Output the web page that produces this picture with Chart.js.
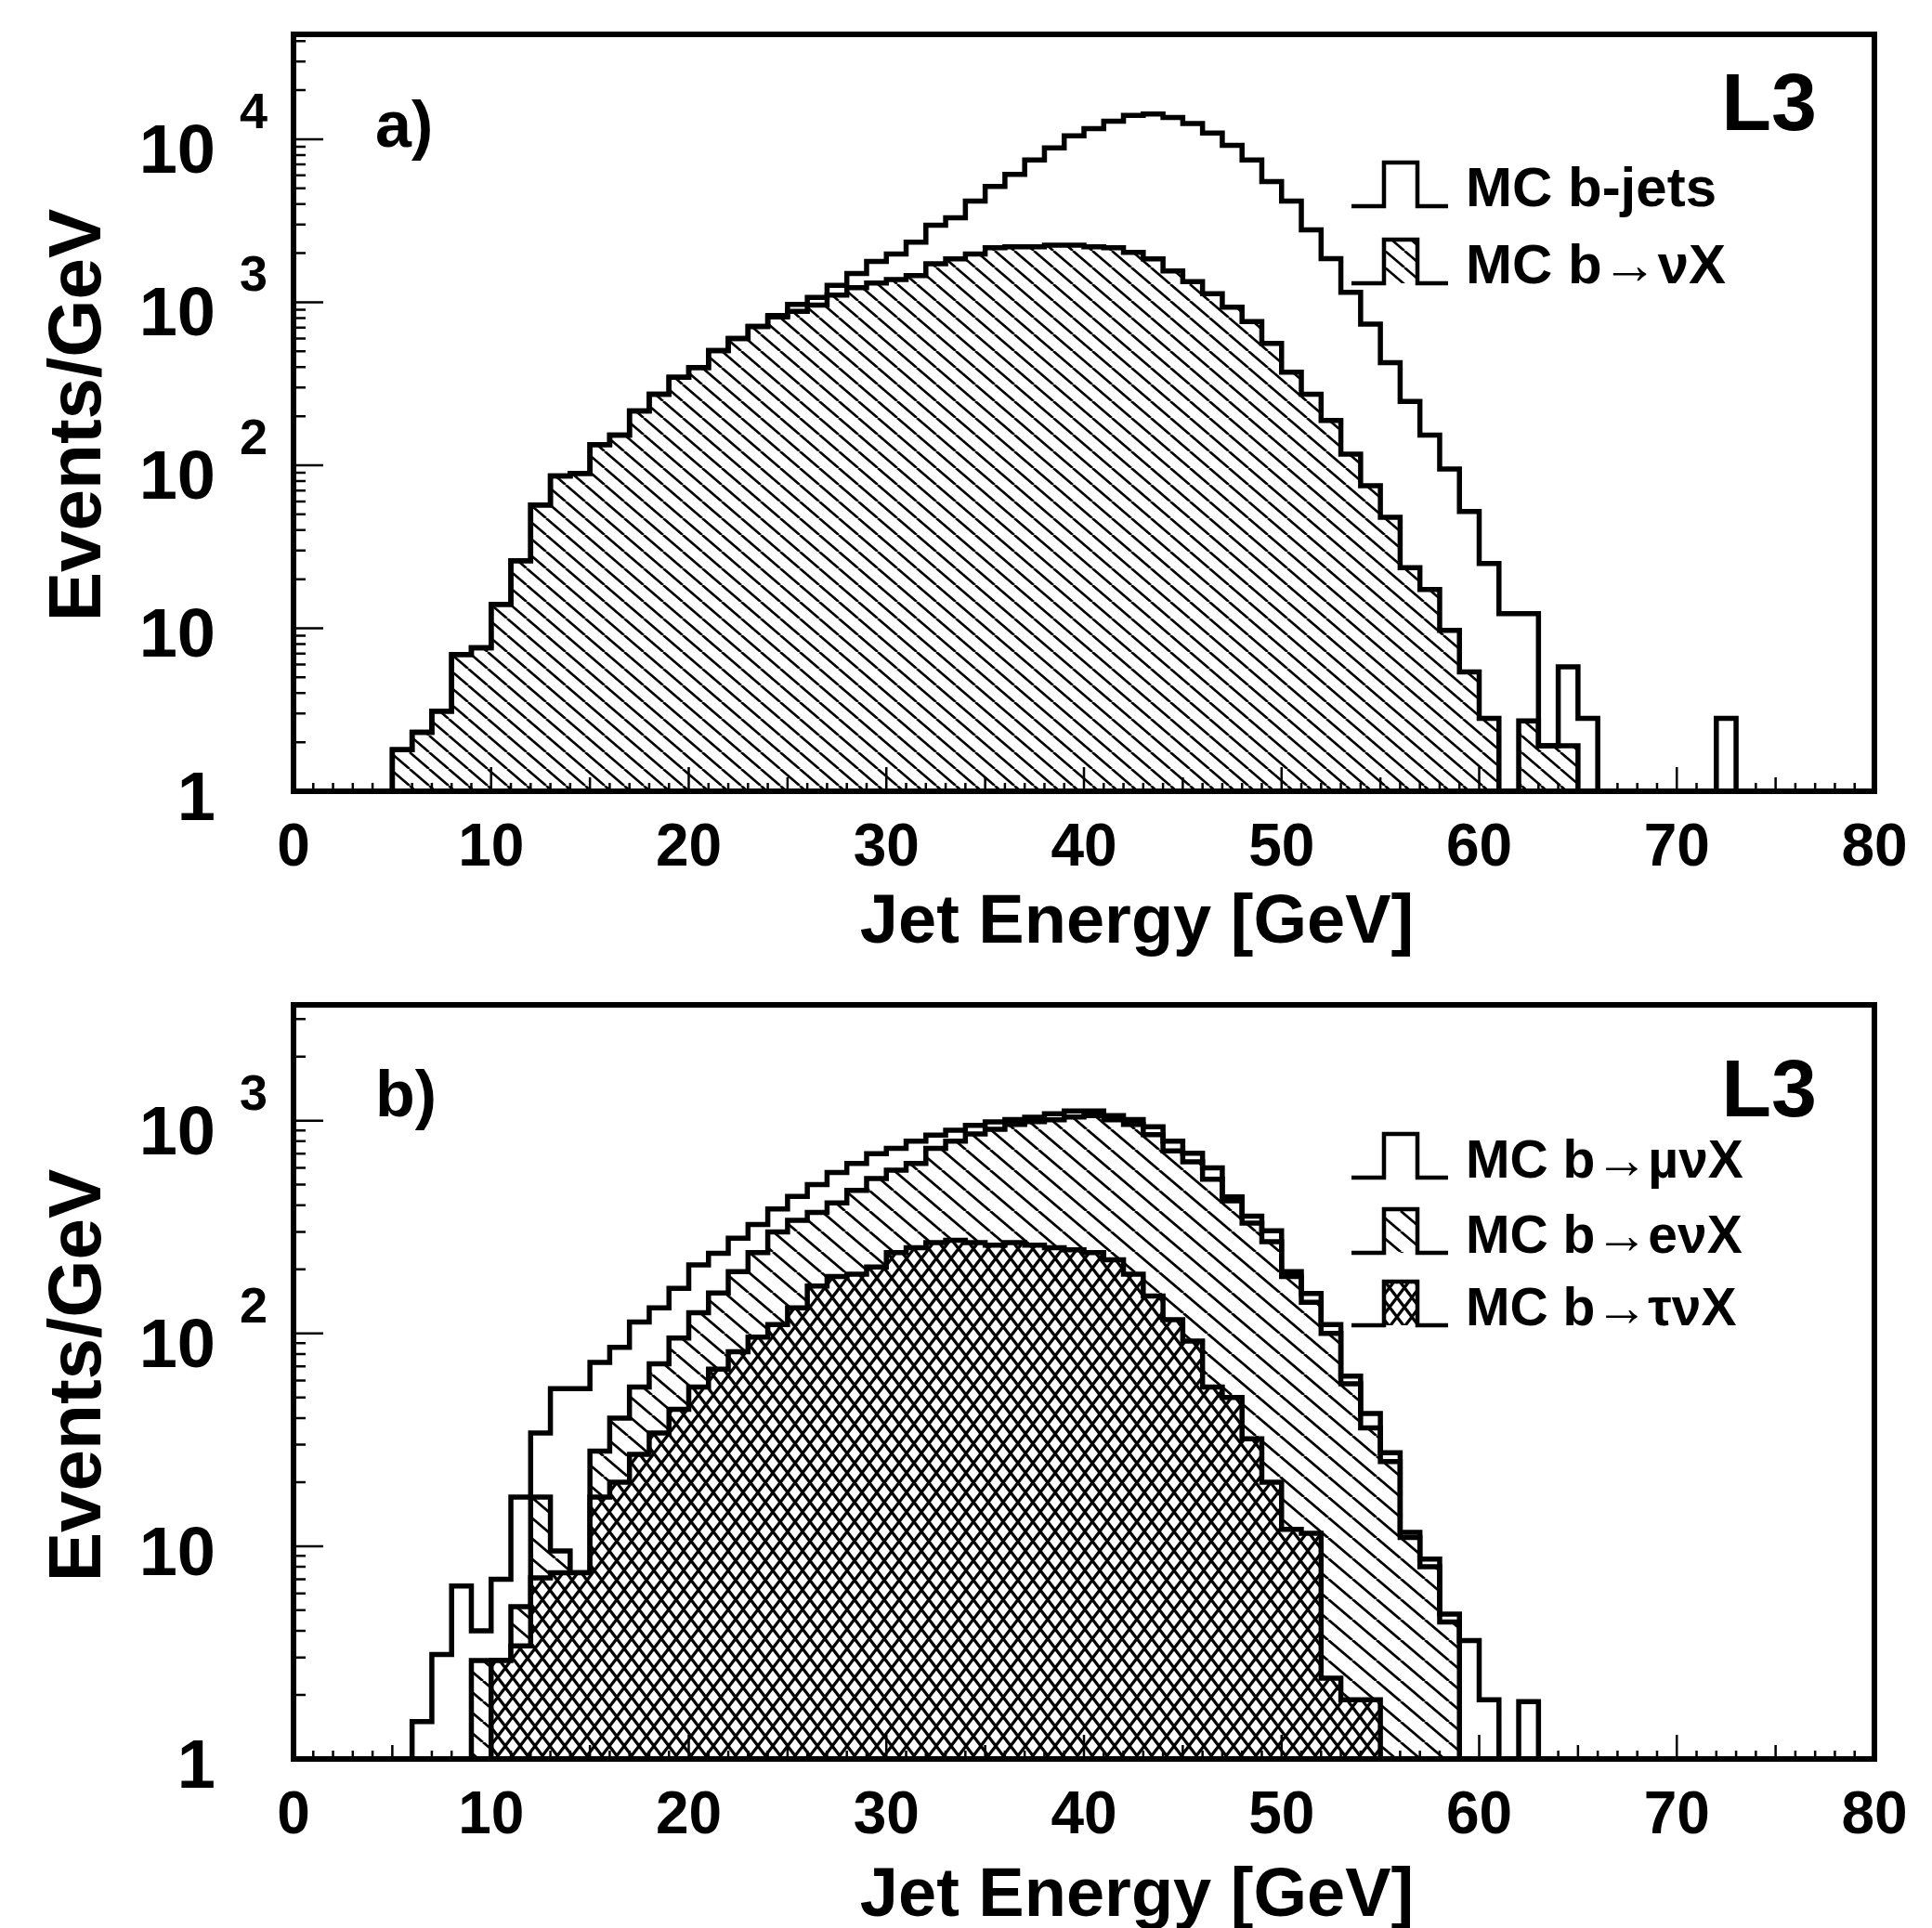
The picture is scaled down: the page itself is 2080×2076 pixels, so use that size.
<!DOCTYPE html>
<html>
<head>
<meta charset="utf-8">
<script src="https://cdn.jsdelivr.net/npm/chart.js@4.4.1/dist/chart.umd.min.js"></script>
<style>
  html, body { margin: 0; padding: 0; background: #fff; }
  body { width: 2080px; height: 2076px; position: relative; overflow: hidden; }
  canvas { position: absolute; left: 0; }
  #chart-a { top: 0; }
  #chart-b { top: 1040px; }
</style>
</head>
<body>
<canvas id="chart-a" width="2080" height="1040"></canvas>
<canvas id="chart-b" width="2080" height="1036"></canvas>
<script>
// 1 GeV bins, every series lists its counts starting from its first bin edge
const xTicks = [0, 10, 20, 30, 40, 50, 60, 70, 80];
const yTicksA = [1, 10, 100, 1000, 10000];
const yTicksB = [1, 10, 100, 1000];

// panel a)
const bJetsStart = 5;
const bJets = [
  1.8, 2.3, 3.1, 6.9, 7.6, 14, 26, 57, 86, 89,
  134, 153, 215, 273, 347, 398, 505, 600, 710, 830,
  970, 1070, 1270, 1500, 1780, 1980, 2340, 2970, 3300, 4180,
  5130, 6090, 7470, 8860, 10500, 11600, 12900, 14000, 14300, 13600,
  12500, 10900, 9160, 7470, 5500, 4180, 2780, 1850, 1150, 735,
  426, 246, 153, 95, 52, 25, 12.3, 12.3, 1.9, 5.8,
  2.8, 0, 0, 0, 0, 0, 0, 2.8
];
const bNuXStart = 5;
const bNuX = [
  1.8, 2.3, 3.1, 6.9, 7.6, 14, 26, 57, 86, 89,
  134, 153, 215, 273, 347, 398, 505, 600, 710, 812,
  880, 960, 1107, 1227, 1313, 1380, 1455, 1725, 1846, 1977,
  2160, 2190, 2190, 2240, 2240, 2190, 2160, 2020, 1846, 1556,
  1340, 1130, 933, 760, 560, 372, 273, 188, 117, 75,
  48, 23.5, 17.3, 9.7, 5.4, 2.8, 0, 2.7, 1.9, 1.9
];

// panel b)
const muNuXStart = 6;
const muNuX = [
  1.5, 3.1, 6.5, 4.0, 7.0, 17, 34, 55, 55, 73,
  86, 113, 132, 163, 210, 238, 280, 325, 385, 440,
  500, 570, 630, 700, 740, 800, 856, 902, 950, 986,
  1011, 1038, 1076, 1111, 1111, 1055, 1011, 935, 800, 702,
  600, 438, 356, 304, 195, 154, 110, 63, 42, 27.5,
  11.6, 8.7, 4.8, 3.6, 1.9, 0, 1.86
];
const eNuXStart = 9;
const eNuX = [
  2.9, 2.9, 5.2, 17, 9.5, 7.5, 28, 40, 56, 72,
  95, 125, 155, 195, 240, 300, 340, 370, 410, 470,
  535, 585, 630, 740, 800, 865, 910, 960, 990, 1010,
  1040, 1055, 1010, 960, 860, 720, 640, 530, 420, 330,
  270, 185, 140, 100, 58, 36, 25, 11, 8, 4.4
];
const tauNuXStart = 10;
const tauNuX = [
  2.9, 3.4, 7.1, 7.5, 7.5, 17, 20, 27, 34, 44,
  56, 68, 82, 96, 110, 132, 167, 185, 190, 205,
  240, 253, 267, 274, 267, 260, 267, 260, 253, 247,
  240, 222, 190, 150, 116, 92, 56, 50, 32, 20,
  12, 11.5, 2.4, 1.9, 1.9
];

const FONT = "'Liberation Sans', Arial, 'DejaVu Sans', sans-serif";

// outline points for a step histogram; empty bins sit on the axis floor
function histPoints(start, counts, floor) {
  const pts = [{x: start, y: floor}];
  counts.forEach((c, i) => pts.push({x: start + i, y: c > 0 ? c : floor}));
  pts.push({x: start + counts.length, y: floor});
  return pts;
}

function hatch(w, h, lw, cross, bg) {
  const c = document.createElement('canvas');
  c.width = w; c.height = h;
  const g = c.getContext('2d');
  if (bg) { g.fillStyle = bg; g.fillRect(0, 0, w, h); }
  g.strokeStyle = '#000';
  g.lineWidth = lw;
  g.beginPath();
  for (let k = -w; k <= w; k += w) {
    g.moveTo(k, 0); g.lineTo(k + w, h);
    if (cross) { g.moveTo(k, h); g.lineTo(k + w, 0); }
  }
  g.stroke();
  return g.createPattern(c, 'repeat');
}

const hatchA = hatch(21, 18, 2.6, false);
const hatchE = hatch(26, 22, 2.8, false);
const crossT = hatch(16, 21, 3.2, true, '#fff');

// text and legend of each panel, kept out of the chart options resolver
const panels = {
  'chart-a': {
    yTicks: yTicksA, tag: 'a)', tagY: 158, l3Y: 140,
    xTitleY: 1015, yTitleY: 447, legendSize: 60,
    legend: [
      {text: 'MC b-jets', y: 222, fill: null},
      {text: 'MC b→νX', y: 305, fill: hatchA}
    ]
  },
  'chart-b': {
    yTicks: yTicksB, tag: 'b)', tagY: 162, l3Y: 162,
    xTitleY: 1023, yTitleY: 441, legendSize: 57,
    legend: [
      {text: 'MC b→µνX', y: 228, fill: null},
      {text: 'MC b→eνX', y: 309, fill: hatchE},
      {text: 'MC b→τνX', y: 387, fill: crossT}
    ]
  }
};

const outline = {
  borderColor: '#000',
  borderWidth: 5.5,
  pointRadius: 0,
  stepped: 'before',
  tension: 0,
  borderJoinStyle: 'miter',
  borderCapStyle: 'butt'
};

function legendIcon(ctx, x0, base, fill) {
  const h = 47;
  if (fill) {
    ctx.save();
    ctx.fillStyle = fill;
    ctx.fillRect(x0 + 35, base - h, 36, h);
    ctx.restore();
  }
  ctx.lineWidth = 4.5;
  ctx.beginPath();
  ctx.moveTo(x0, base);
  ctx.lineTo(x0 + 35, base);
  ctx.lineTo(x0 + 35, base - h);
  ctx.lineTo(x0 + 71, base - h);
  ctx.lineTo(x0 + 71, base);
  ctx.lineTo(x0 + 104, base);
  ctx.stroke();
}

const decor = {
  id: 'decor',
  beforeDraw(chart) {
    const {ctx, width, height} = chart;
    ctx.save();
    ctx.fillStyle = '#fff';
    ctx.fillRect(0, 0, width, height);
    ctx.restore();
  },
  afterDraw(chart) {
    const o = panels[chart.canvas.id];
    const {ctx, chartArea: a, scales: {x, y}} = chart;
    ctx.save();
    ctx.strokeStyle = '#000';
    ctx.fillStyle = '#000';

    // inward ticks
    ctx.lineWidth = 2.5;
    ctx.beginPath();
    for (let e = x.min; e <= x.max; e++) {
      const px = x.getPixelForValue(e);
      const len = e % 10 === 0 ? 26 : (e % 5 === 0 ? 15 : 9);
      ctx.moveTo(px, a.bottom);
      ctx.lineTo(px, a.bottom - len);
    }
    for (let d = 1; d <= y.max; d *= 10) {
      for (let m = 1; m < 10; m++) {
        const v = m * d;
        if (v > y.max) break;
        const py = y.getPixelForValue(v);
        ctx.moveTo(a.left, py);
        ctx.lineTo(a.left + (m === 1 ? 32 : 13), py);
      }
    }
    ctx.stroke();

    ctx.lineWidth = 6;
    ctx.strokeRect(a.left, a.top, a.right - a.left, a.bottom - a.top);

    // x tick labels
    ctx.textBaseline = 'alphabetic';
    ctx.textAlign = 'center';
    ctx.font = `bold 64px ${FONT}`;
    xTicks.forEach(v => ctx.fillText(String(v), x.getPixelForValue(v), a.bottom + 80));

    // y tick labels: 1, 10, then 10 with a raised exponent
    o.yTicks.forEach(v => {
      const py = y.getPixelForValue(v);
      const p = Math.round(Math.log10(v));
      ctx.textAlign = 'right';
      ctx.font = `bold 74px ${FONT}`;
      ctx.fillText(p < 2 ? String(v) : '10', a.left - 84, py + (p < 2 ? 31 : 36));
      if (p >= 2) {
        ctx.textAlign = 'left';
        ctx.font = `bold 54px ${FONT}`;
        ctx.fillText(String(p), a.left - 58, py - 12);
      }
    });

    // axis titles
    ctx.textAlign = 'center';
    ctx.font = `bold 74px ${FONT}`;
    ctx.fillText('Jet Energy [GeV]', 1224, o.xTitleY);
    ctx.save();
    ctx.translate(108, o.yTitleY);
    ctx.rotate(-Math.PI / 2);
    ctx.font = `bold 80px ${FONT}`;
    ctx.fillText('Events/GeV', 0, 0);
    ctx.restore();

    // panel tag and experiment label
    ctx.textAlign = 'left';
    ctx.font = `bold 70px ${FONT}`;
    ctx.fillText(o.tag, 404, o.tagY);
    ctx.textAlign = 'right';
    ctx.font = `bold 88px ${FONT}`;
    ctx.fillText('L3', 1956, o.l3Y);

    // legend
    ctx.textAlign = 'left';
    ctx.font = `bold ${o.legendSize}px ${FONT}`;
    o.legend.forEach(row => {
      legendIcon(ctx, 1455, row.y, row.fill);
      ctx.fillText(row.text, 1578, row.y);
    });

    ctx.restore();
  }
};

new Chart(document.getElementById('chart-a'), {
  type: 'line',
  data: {
    datasets: [
      Object.assign({label: 'MC b-jets', data: histPoints(bJetsStart, bJets, 1), fill: false}, outline),
      Object.assign({label: 'MC b→νX', data: histPoints(bNuXStart, bNuX, 1), fill: 'start', backgroundColor: hatchA}, outline)
    ]
  },
  options: {
    responsive: false,
    devicePixelRatio: 1,
    animation: false,
    layout: {padding: {left: 316, right: 62, top: 37, bottom: 188}},
    scales: {
      x: {type: 'linear', min: 0, max: 80, display: false},
      y: {type: 'logarithmic', min: 1, max: 44000, display: false}
    },
    plugins: {legend: {display: false}, tooltip: {enabled: false}}
  },
  plugins: [decor]
});

new Chart(document.getElementById('chart-b'), {
  type: 'line',
  data: {
    datasets: [
      Object.assign({label: 'MC b→µνX', data: histPoints(muNuXStart, muNuX, 1), fill: false, order: 0}, outline),
      Object.assign({label: 'MC b→τνX', data: histPoints(tauNuXStart, tauNuX, 1), fill: 'start', backgroundColor: crossT, order: 1}, outline),
      Object.assign({label: 'MC b→eνX', data: histPoints(eNuXStart, eNuX, 1), fill: 'start', backgroundColor: hatchE, order: 2}, outline)
    ]
  },
  options: {
    responsive: false,
    devicePixelRatio: 1,
    animation: false,
    layout: {padding: {left: 316, right: 62, top: 42, bottom: 182}},
    scales: {
      x: {type: 'linear', min: 0, max: 80, display: false},
      y: {type: 'logarithmic', min: 1, max: 3500, display: false}
    },
    plugins: {legend: {display: false}, tooltip: {enabled: false}}
  },
  plugins: [decor]
});
</script>
</body>
</html>
